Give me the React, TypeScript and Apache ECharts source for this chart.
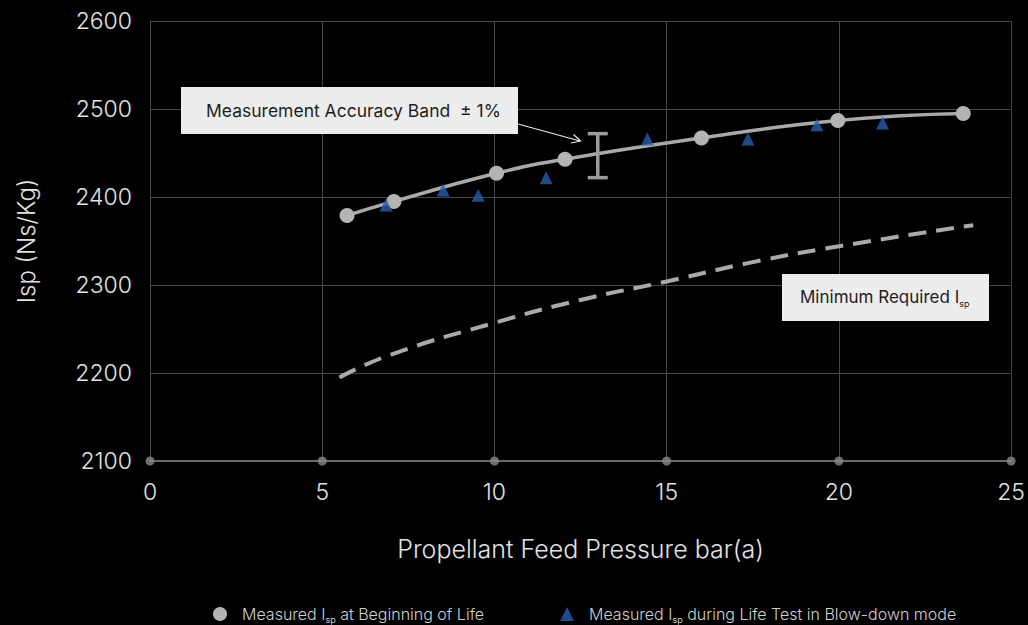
import React, { useEffect, useRef } from "react";
import * as echarts from "echarts";

// Measured Isp at beginning of life
const bolX = [5.72, 7.08, 10.06, 12.05, 16.01, 19.97, 23.61];
const bolY = [2379, 2395, 2427, 2443, 2467, 2487, 2495];

// Measured Isp during life test in blow-down mode
const lifeX = [6.85, 8.51, 9.53, 11.5, 14.44, 17.36, 19.36, 21.27];
const lifeY = [2391, 2408, 2402, 2422, 2466, 2466, 2482, 2484];

// Minimum required Isp
const minX = [5.5, 7, 10, 12.5, 15, 17.5, 20, 23.9];
const minY = [2195, 2221, 2257, 2283, 2304, 2326, 2344, 2368];

// Accuracy band error bar
const errX = [13];
const errLow = [2422];
const errHigh = [2472];

// x-axis tick dots
const tickX = [0, 5, 10, 15, 20, 25];

const FONT = "Inter, 'Noto Sans', sans-serif";

export default function App() {
  const ref = useRef<HTMLDivElement>(null);
  useEffect(() => {
    document.body.style.margin = "0";
    const chart = echarts.init(ref.current!, null, { renderer: "svg" });
    const gridCol = "#474747";
    const option: any = {
      animation: false,
      backgroundColor: "#000",
      textStyle: { fontFamily: FONT },
      grid: { left: 150, right: 14, top: 21, bottom: 164 },
      xAxis: {
        type: "value",
        min: 0,
        max: 25,
        interval: 5,
        name: "Propellant Feed Pressure bar(a)",
        nameLocation: "middle",
        nameGap: 75,
        nameTextStyle: { color: "#e2e2e2", fontSize: 25, fontWeight: 300, fontFamily: FONT },
        axisLine: { show: true, lineStyle: { color: "#6a6a6a", width: 2 } },
        axisTick: { show: false },
        axisLabel: { color: "#e2e2e2", fontSize: 23, fontWeight: 300, margin: 19, fontFamily: FONT },
        splitLine: { show: true, lineStyle: { color: gridCol, width: 1 } },
      },
      yAxis: {
        type: "value",
        min: 2100,
        max: 2600,
        interval: 100,
        name: "Isp (Ns/Kg)",
        nameLocation: "middle",
        nameGap: 112,
        nameRotate: 90,
        nameTextStyle: { color: "#e2e2e2", fontSize: 24, fontWeight: 300, fontFamily: FONT },
        axisLine: { show: true, lineStyle: { color: gridCol, width: 1 } },
        axisTick: { show: false },
        axisLabel: {
          color: "#e2e2e2",
          fontSize: 23,
          fontWeight: 300,
          margin: 18,
          fontFamily: FONT,
          formatter: (v: number) => String(v),
        },
        splitLine: { show: true, lineStyle: { color: gridCol, width: 1 } },
      },
      legend: {
        left: 208,
        top: 601,
        itemGap: 76,
        itemWidth: 14,
        itemHeight: 14,
        data: [
          { name: "bol", icon: "circle", itemStyle: { color: "#b4b4b4" } },
          { name: "life", icon: "triangle", itemStyle: { color: "#2a5caa" } },
        ],
        formatter: (name: string) =>
          name === "bol"
            ? "{n|Measured I}{s|sp}{n| at Beginning of Life}"
            : "{n|Measured I}{s|sp}{n| during Life Test in Blow-down mode}",
        textStyle: {
          padding: [0, 0, 0, 10],
          rich: {
            n: { fontSize: 16, color: "#cfcfcf", fontFamily: FONT, fontWeight: 300, lineHeight: 20 },
            s: { fontSize: 9, color: "#cfcfcf", fontFamily: FONT, lineHeight: 8, verticalAlign: "bottom" },
          },
        },
      },
      series: [
        {
          name: "axisDots",
          type: "scatter",
          silent: true,
          symbol: "circle",
          symbolSize: 9,
          itemStyle: { color: "#8a8a8a" },
          data: tickX.map((x) => [x, 2100]),
          z: 3,
        },
        {
          name: "min",
          type: "line",
          smooth: true,
          showSymbol: false,
          symbol: "none",
          lineStyle: { color: "#a9a9a9", width: 4, type: [18, 10] },
          data: minX.map((x, i) => [x, minY[i]]),
        },
        {
          name: "bol",
          type: "line",
          smooth: true,
          symbol: "circle",
          symbolSize: 15,
          itemStyle: { color: "#b4b4b4" },
          lineStyle: { color: "#a9a9a9", width: 3.5 },
          data: bolX.map((x, i) => [x, bolY[i]]),
          z: 4,
        },
        {
          name: "life",
          type: "scatter",
          symbol: "triangle",
          symbolSize: 13,
          itemStyle: { color: "#2a5caa" },
          data: lifeX.map((x, i) => [x, lifeY[i]]),
          z: 5,
        },
        {
          name: "err",
          type: "custom",
          renderItem: (params: any, api: any) => {
            const x = api.value(0);
            const top = api.coord([x, api.value(2)]);
            const bot = api.coord([x, api.value(1)]);
            const hw = 10;
            const st = { stroke: "#9c9c9c", lineWidth: 3.5 };
            return {
              type: "group",
              children: [
                { type: "line", shape: { x1: top[0], y1: top[1], x2: bot[0], y2: bot[1] }, style: st },
                { type: "line", shape: { x1: top[0] - hw, y1: top[1], x2: top[0] + hw, y2: top[1] }, style: st },
                { type: "line", shape: { x1: bot[0] - hw, y1: bot[1], x2: bot[0] + hw, y2: bot[1] }, style: st },
              ],
            };
          },
          data: errX.map((x, i) => [x, errLow[i], errHigh[i]]),
          z: 6,
        },
      ],
      graphic: [
        {
          type: "rect",
          shape: { x: 181, y: 87, width: 337, height: 47 },
          style: { fill: "#ededed" },
          z: 10,
        },
        {
          type: "text",
          x: 206,
          y: 110.5,
          style: {
            text: "Measurement Accuracy Band  ± 1%",
            fill: "#1e1e1e",
            font: `17.5px ${FONT}`,
            verticalAlign: "middle",
          },
          z: 11,
        },
        {
          type: "line",
          shape: { x1: 518, y1: 124, x2: 580, y2: 141 },
          style: { stroke: "#e8e8e8", lineWidth: 1.2 },
          z: 10,
        },
        {
          type: "polyline",
          shape: { points: [[571, 143], [580.5, 141], [573.5, 134.5]] },
          style: { stroke: "#e8e8e8", lineWidth: 1.2, fill: null },
          z: 10,
        },
        {
          type: "rect",
          shape: { x: 782, y: 274, width: 207, height: 47 },
          style: { fill: "#ededed" },
          z: 10,
        },
        {
          type: "text",
          x: 800,
          y: 297,
          style: {
            text: "{n|Minimum Required I}{s|sp}",
            verticalAlign: "middle",
            rich: {
              n: { fontSize: 17, fill: "#1e1e1e", color: "#1e1e1e", fontFamily: FONT, lineHeight: 22 },
              s: { fontSize: 9, fill: "#1e1e1e", color: "#1e1e1e", fontFamily: FONT, lineHeight: 8, verticalAlign: "bottom" },
            },
          },
          z: 11,
        },
      ],
    };
    chart.setOption(option);
    return () => chart.dispose();
  }, []);
  return (
    <div
      ref={ref}
      style={{ position: "absolute", left: 0, top: 0, width: 1028, height: 625, background: "#000" }}
    />
  );
}
